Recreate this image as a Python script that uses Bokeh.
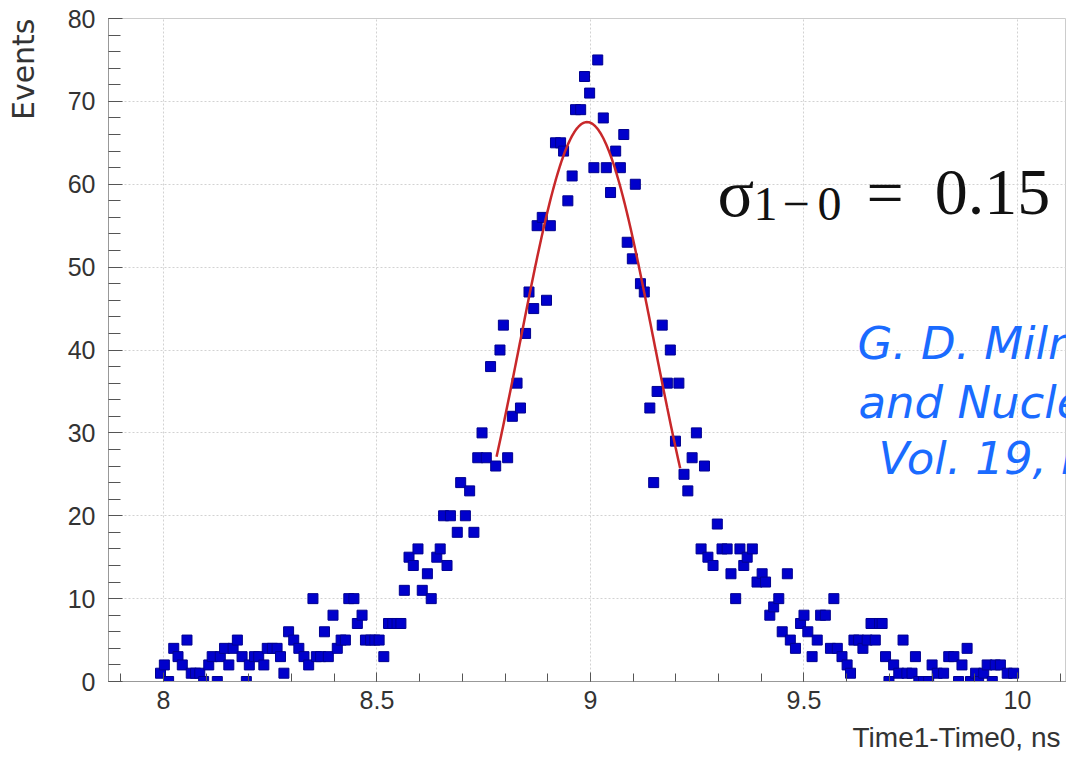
import numpy as np
from bokeh.plotting import figure
from bokeh.models import (Label, Range1d, SingleIntervalTicker, NumeralTickFormatter,
                          Title, LinearAxis, FixedTicker)
from bokeh.embed import file_html
from bokeh.resources import INLINE

# ---- data ----
time_ns = [7.993, 8.002, 8.012, 8.024, 8.034, 8.044, 8.055, 8.065, 8.075, 8.085,
           8.094, 8.106, 8.114, 8.126, 8.133, 8.143, 8.153, 8.163, 8.173, 8.184,
           8.194, 8.201, 8.213, 8.223, 8.235, 8.243, 8.255, 8.266, 8.274, 8.282,
           8.293, 8.305, 8.317, 8.329, 8.340, 8.350, 8.358, 8.368, 8.377, 8.386,
           8.397, 8.407, 8.416, 8.426, 8.434, 8.446, 8.454, 8.465, 8.473, 8.485,
           8.495, 8.505, 8.516, 8.527, 8.537, 8.547, 8.556, 8.564, 8.575, 8.585,
           8.596, 8.606, 8.618, 8.627, 8.640, 8.648, 8.656, 8.664, 8.672, 8.688,
           8.696, 8.707, 8.717, 8.727, 8.736, 8.746, 8.756, 8.766, 8.778, 8.788,
           8.796, 8.806, 8.817, 8.828, 8.836, 8.848, 8.856, 8.867, 8.875, 8.887,
           8.897, 8.906, 8.918, 8.930, 8.937, 8.947, 8.957, 8.965, 8.977, 8.986,
           8.998, 9.008, 9.017, 9.030, 9.037, 9.047, 9.059, 9.070, 9.078, 9.086,
           9.098, 9.105, 9.117, 9.126, 9.139, 9.148, 9.156, 9.168, 9.180, 9.187,
           9.199, 9.207, 9.219, 9.228, 9.238, 9.248, 9.259, 9.267, 9.275, 9.287,
           9.297, 9.308, 9.320, 9.329, 9.340, 9.350, 9.359, 9.367, 9.379, 9.390,
           9.402, 9.410, 9.420, 9.429, 9.441, 9.449, 9.461, 9.468, 9.480, 9.492,
           9.500, 9.509, 9.519, 9.531, 9.539, 9.550, 9.562, 9.570, 9.578, 9.589,
           9.601, 9.609, 9.617, 9.628, 9.638, 9.648, 9.657, 9.667, 9.677, 9.683,
           9.691, 9.699, 9.710, 9.722, 9.732, 9.741, 9.753, 9.761, 9.769, 9.780,
           9.792, 9.800, 9.812, 9.827, 9.839, 9.851, 9.862, 9.870, 9.882, 9.890,
           9.902, 9.909, 9.921, 9.929, 9.941, 9.948, 9.960, 9.976, 9.991]
events = [1, 2, 0, 4, 3, 2, 5, 1, 1, 1,
          0, 2, 3, 0, 3, 4, 2, 4, 5, 3,
          0, 2, 3, 3, 2, 4, 4, 4, 3, 1,
          6, 5, 4, 3, 2, 10, 3, 3, 6, 3,
          8, 4, 5, 5, 10, 10, 7, 8, 5, 5,
          5, 5, 3, 7, 7, 7, 7, 11, 15, 14,
          16, 11, 13, 10, 15, 16, 20, 14, 20, 18,
          24, 20, 23, 18, 27, 30, 27, 38, 26, 40,
          43, 27, 32, 36, 33, 42, 47, 45, 55, 56,
          46, 55, 65, 65, 64, 58, 61, 69, 69, 73,
          71, 62, 75, 68, 62, 59, 64, 62, 66, 53,
          51, 60, 48, 47, 33, 24, 35, 43, 36, 40,
          29, 36, 25, 23, 27, 30, 16, 26, 15, 14,
          19, 16, 16, 13, 10, 16, 14, 15, 16, 12,
          13, 12, 8, 9, 10, 6, 13, 5, 4, 7,
          8, 6, 3, 5, 8, 8, 4, 10, 4, 3,
          2, 1, 5, 5, 4, 5, 7, 5, 7, 7,
          3, 0, 2, 1, 5, 1, 1, 3, 0, 0,
          0, 2, 1, 1, 3, 3, 0, 2, 4, 0,
          1, 0, 1, 2, 0, 2, 2, 1, 1]

# Gaussian fit parameters
fit_amp = 67.5
fit_mean = 8.992
fit_sigma = 0.157
fit_range = [8.78, 9.21]

x_title = "Time1-Time0, ns"
y_title = "Events"

# ---- figure ----
p = figure(width=1066, height=758, output_backend="svg", toolbar_location=None,
           x_range=Range1d(7.8712, 10.1148), y_range=Range1d(0, 80),
           min_border_left=108, min_border_right=0, min_border_top=18,
           min_border_bottom=77, background_fill_color="white")
p.outline_line_color = "#cccccc"

label_font = "Liberation Sans"

xt = SingleIntervalTicker(interval=0.5, num_minor_ticks=5)
yt = SingleIntervalTicker(interval=10, num_minor_ticks=5)
p.xaxis.ticker = xt
p.yaxis.ticker = yt
p.xgrid.ticker = xt
p.ygrid.ticker = yt
p.xaxis.formatter = NumeralTickFormatter(format="0.[0]")

for g in (p.xgrid, p.ygrid):
    g.grid_line_color = "#d2d2d2"
    g.grid_line_dash = "2 2"
    g.grid_line_width = 1

for ax in (p.xaxis, p.yaxis):
    ax.axis_line_color = "#999999"
    ax.major_tick_line_color = "#555555"
    ax.minor_tick_line_color = "#555555"
    ax.major_tick_out = 0
    ax.minor_tick_out = 0
    ax.major_label_text_font = label_font
    ax.major_label_text_font_size = "25px"
    ax.major_label_text_color = "#333333"

p.xaxis.major_tick_in = 9
p.xaxis.minor_tick_in = 8
p.xaxis.major_label_standoff = 9
p.yaxis.major_tick_in = 14
p.yaxis.minor_tick_in = 12
p.yaxis.major_label_standoff = 13

# fit curve
xf = np.linspace(fit_range[0], fit_range[1], 200)
yf = fit_amp * np.exp(-0.5 * ((xf - fit_mean) / fit_sigma) ** 2)

p.scatter(time_ns, events, marker="square", size=10,
          fill_color="#0000cc", line_color="#000090", line_width=1)
p.line(xf, yf, line_color="#c8282a", line_width=2.5)


def spacer_axis(width, tick):
    # an invisible axis used only as a gap between tick labels and axis title
    return LinearAxis(ticker=FixedTicker(ticks=[tick]), axis_line_color=None,
                      major_tick_line_color=None, minor_tick_line_color=None,
                      major_tick_in=0, major_tick_out=width, minor_tick_out=0,
                      major_label_standoff=0, major_label_overrides={tick: ""},
                      major_label_text_font_size="0px",
                      major_label_text_alpha=0)


y_title_model = Title(text=y_title, align="right", standoff=0,
                      text_font="DejaVu Sans", text_font_size="30px",
                      text_font_style="normal", text_color="#333333")
x_title_model = Title(text=x_title, align="right", standoff=0, offset=6,
                      text_font=label_font, text_font_size="28px",
                      text_font_style="normal", text_color="#333333")
p.left = [p.yaxis[0], spacer_axis(24, 40), y_title_model]
p.below = [p.xaxis[0], spacer_axis(8, 9), x_title_model]

# sigma annotation
serif = "Liberation Serif"
p.add_layout(Label(x=9.2974, y=58.99, text="σ", text_font=serif,
                   text_font_size="68px", text_color="#111111",
                   text_baseline="alphabetic"))
for tx, sx in (("1", 9.3817), ("−", 9.4496), ("0", 9.5316)):
    p.add_layout(Label(x=sx, y=57.66, text=tx, text_font=serif,
                       text_font_size="48px", text_color="#111111",
                       text_baseline="alphabetic"))
p.add_layout(Label(x=9.6464, y=58.99, text="=", text_font=serif,
                   text_font_size="66px", text_color="#111111",
                   text_baseline="alphabetic"))
p.add_layout(Label(x=9.806, y=58.99, text="0.15", text_font=serif,
                   text_font_size="66px", text_color="#111111",
                   text_baseline="alphabetic"))

# citation text (cut by the image edge, as in the source picture)
cite_lines = ["G. D. Miln", "and Nucle", "Vol. 19, N"]
cite_x = [9.6253, 9.6276, 9.6745]
cite_y = [40.77, 33.66, 26.9]
for t, cx, cy in zip(cite_lines, cite_x, cite_y):
    p.add_layout(Label(x=cx, y=cy, text=t, text_font="DejaVu Sans",
                       text_font_style="italic", text_font_size="45px",
                       text_color="#1a6bff", text_baseline="alphabetic"))

open("out.html", "w").write(file_html(p, INLINE))
